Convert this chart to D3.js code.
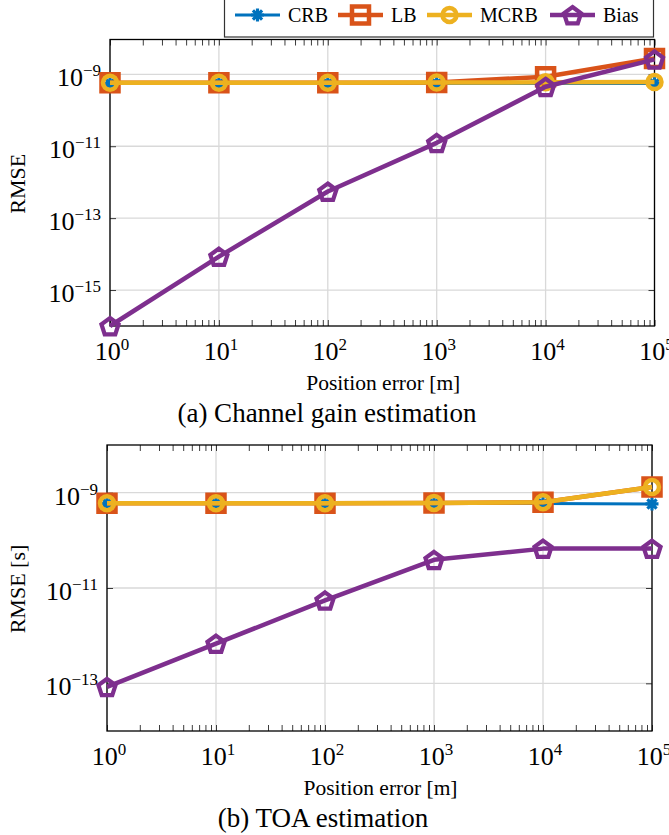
<!DOCTYPE html>
<html>
<head>
<meta charset="utf-8">
<script src="https://cdn.jsdelivr.net/npm/d3@7"></script>
<style>
  body { margin: 0; background: #fff; }
  svg { display: block; }
  text { font-family: "Liberation Serif", "Times New Roman", serif; fill: #000; }
</style>
</head>
<body>
<svg id="chart" width="669" height="835"></svg>
<script>
// ---------------- data ----------------
const positionError = [1, 10, 100, 1000, 10000, 100000];
const seriesNames = ["CRB", "LB", "MCRB", "Bias"];

// (a) Channel gain estimation
const gainCRB  = [5.6e-10, 5.6e-10, 5.6e-10, 5.6e-10, 5.6e-10, 5.6e-10];
const gainLB   = [5.8e-10, 5.8e-10, 5.8e-10, 5.9e-10, 8.6e-10, 2.75e-9];
const gainMCRB = [5.8e-10, 5.8e-10, 5.8e-10, 5.9e-10, 6.0e-10, 6.1e-10];
const gainBias = [1.0e-16, 8.5e-15, 5.5e-13, 1.24e-11, 4.5e-10, 2.6e-9];

// (b) TOA estimation
const toaCRB  = [5.9e-10, 5.9e-10, 5.9e-10, 5.9e-10, 5.9e-10, 5.8e-10];
const toaLB   = [6.0e-10, 6.0e-10, 6.0e-10, 6.1e-10, 6.3e-10, 1.31e-9];
const toaMCRB = [6.0e-10, 6.0e-10, 6.0e-10, 6.1e-10, 6.3e-10, 1.31e-9];
const toaBias = [8.4e-14, 6.8e-13, 5.5e-12, 3.9e-11, 6.7e-11, 6.7e-11];

const xTickExps = [0, 1, 2, 3, 4, 5];
const gainYTickExps = [-9, -11, -13, -15];
const toaYTickExps = [-9, -11, -13];

const colors = { CRB: "#0072BD", LB: "#D95319", MCRB: "#EDB120", Bias: "#7E2F8E" };

// ---------------- markers ----------------
function markerPath(type) {
  if (type === "CRB") { // asterisk (+ and x)
    const r = 6.5, d = r * Math.SQRT1_2;
    return `M${-r},0L${r},0M0,${-r}L0,${r}M${-d},${-d}L${d},${d}M${-d},${d}L${d},${-d}`;
  }
  if (type === "LB") { const s = 8.5; return `M${-s},${-s}H${s}V${s}H${-s}Z`; }
  if (type === "MCRB") return d3.symbol(d3.symbolCircle, Math.PI * 7 * 7)();
  // pentagon
  const r = 9;
  const pts = d3.range(5).map(i => {
    const a = -Math.PI / 2 + i * 2 * Math.PI / 5;
    return [r * Math.cos(a), r * Math.sin(a) + 1];
  });
  return "M" + pts.map(p => p.join(",")).join("L") + "Z";
}
const markerStroke = { CRB: 3.2, LB: 4.5, MCRB: 4.5, Bias: 4.2 };
const lineWidth = { CRB: 3, LB: 4.5, MCRB: 4.5, Bias: 4.5 };

const svg = d3.select("#chart");

function supLabel(sel, exp, baseSize, supSize, raise) {
  sel.append("tspan").text("10").style("font-size", baseSize + "px");
  sel.append("tspan").text(exp < 0 ? "\u2212" + (-exp) : String(exp))
    .attr("dy", -raise).style("font-size", supSize + "px");
}

function drawPanel(cfg) {
  const { left, right, top, bottom, yDomain, yTickExps, data, yTitle, caption, captionX } = cfg;
  const g = svg.append("g");
  const x = d3.scaleLog().domain([1, 1e5]).range([left, right]);
  const y = d3.scaleLog().domain(yDomain).range([bottom, top]);

  // grid
  g.append("g").selectAll("line").data(xTickExps).join("line")
    .attr("x1", e => x(Math.pow(10, e))).attr("x2", e => x(Math.pow(10, e)))
    .attr("y1", top).attr("y2", bottom)
    .attr("stroke", "#d9d9d9").attr("stroke-width", 1.3);
  g.append("g").selectAll("line").data(yTickExps).join("line")
    .attr("y1", e => y(Math.pow(10, e))).attr("y2", e => y(Math.pow(10, e)))
    .attr("x1", left).attr("x2", right)
    .attr("stroke", "#d9d9d9").attr("stroke-width", 1.3);

  // axes via d3 axis (ticks inward)
  const minorX = [];
  for (let e = 0; e < 5; e++) for (let m = 1; m <= 9; m++) minorX.push(m * Math.pow(10, e));
  minorX.push(1e5);
  const xAxisB = d3.axisBottom(x).tickValues(minorX).tickSize(-6).tickFormat("");
  const xAxisT = d3.axisTop(x).tickValues(minorX).tickSize(-6).tickFormat("");
  const yVals = yTickExps.map(e => Math.pow(10, e));
  const yAxisL = d3.axisLeft(y).tickValues(yVals).tickSize(-6).tickFormat("");
  const yAxisR = d3.axisRight(y).tickValues(yVals).tickSize(-6).tickFormat("");
  [[xAxisB, `translate(0,${bottom})`], [xAxisT, `translate(0,${top})`],
   [yAxisL, `translate(${left},0)`], [yAxisR, `translate(${right},0)`]].forEach(([ax, tr]) => {
    const a = g.append("g").attr("transform", tr).call(ax);
    a.select(".domain").remove();
    a.selectAll(".tick line").attr("stroke", "#262626").attr("stroke-width", 0.9);
  });

  // box
  g.append("rect").attr("x", left).attr("y", top).attr("width", right - left).attr("height", bottom - top)
    .attr("fill", "none").attr("stroke", "#000").attr("stroke-width", 1.3);

  // tick labels
  g.append("g").selectAll("text").data(xTickExps).join("text")
    .attr("x", e => x(Math.pow(10, e)) + 2).attr("y", bottom + 34)
    .attr("text-anchor", "middle")
    .each(function (e) { supLabel(d3.select(this), e, 26, 17, 10); });
  g.append("g").selectAll("text").data(yTickExps).join("text")
    .attr("x", left - 9).attr("y", e => y(Math.pow(10, e)) + 12)
    .attr("text-anchor", "end")
    .each(function (e) { supLabel(d3.select(this), e, 26, 17, 10); });

  // titles
  g.append("text").attr("x", (left + right) / 2 + 1).attr("y", bottom + 64)
    .attr("text-anchor", "middle").style("font-size", "21.5px").text("Position error [m]");
  g.append("text").attr("transform", `translate(25,${(top + bottom) / 2 + 1}) rotate(-90)`)
    .attr("text-anchor", "middle").style("font-size", "22px").text(yTitle);
  g.append("text").attr("x", captionX).attr("y", bottom + 96)
    .attr("text-anchor", "middle").style("font-size", "27px").text(caption);

  // series
  const line = d3.line().x((d, i) => x(positionError[i])).y(d => y(d));
  seriesNames.forEach(name => {
    const vals = data[name];
    g.append("path").attr("d", line(vals)).attr("fill", "none")
      .attr("stroke", colors[name]).attr("stroke-width", lineWidth[name])
      .attr("stroke-linejoin", "round");
    g.append("g").selectAll("path").data(vals).join("path")
      .attr("d", markerPath(name))
      .attr("transform", (d, i) => `translate(${x(positionError[i])},${y(d)})`)
      .attr("fill", "none").attr("stroke", colors[name])
      .attr("stroke-width", markerStroke[name]).attr("stroke-linejoin", "miter");
  });
}

drawPanel({
  left: 110, right: 654.5, top: 39.5, bottom: 326,
  yDomain: [1e-16, 9.3e-9], yTickExps: gainYTickExps,
  data: { CRB: gainCRB, LB: gainLB, MCRB: gainMCRB, Bias: gainBias },
  yTitle: "RMSE", caption: "(a) Channel gain estimation", captionX: 327
});
drawPanel({
  left: 107, right: 652, top: 445, bottom: 731,
  yDomain: [1e-14, 1e-8], yTickExps: toaYTickExps,
  data: { CRB: toaCRB, LB: toaLB, MCRB: toaMCRB, Bias: toaBias },
  yTitle: "RMSE [s]", caption: "(b) TOA estimation", captionX: 323
});

// ---------------- legend ----------------
const legend = svg.append("g");
legend.append("rect").attr("x", 224.5).attr("y", -2).attr("width", 429).attr("height", 39)
  .attr("fill", "#fff").attr("stroke", "#333").attr("stroke-width", 1.2);
const legendX = { CRB: 235, LB: 338, MCRB: 427, Bias: 550 };
const ly = 15;
seriesNames.forEach(name => {
  const x0 = legendX[name];
  legend.append("line").attr("x1", x0).attr("x2", x0 + 45).attr("y1", ly).attr("y2", ly)
    .attr("stroke", colors[name]).attr("stroke-width", lineWidth[name]);
  legend.append("path").attr("d", markerPath(name))
    .attr("transform", `translate(${x0 + 22.5},${ly})`)
    .attr("fill", "none").attr("stroke", colors[name]).attr("stroke-width", markerStroke[name]);
  legend.append("text").attr("x", x0 + 53).attr("y", ly + 7)
    .style("font-size", "20px").text(name);
});
</script>
</body>
</html>
